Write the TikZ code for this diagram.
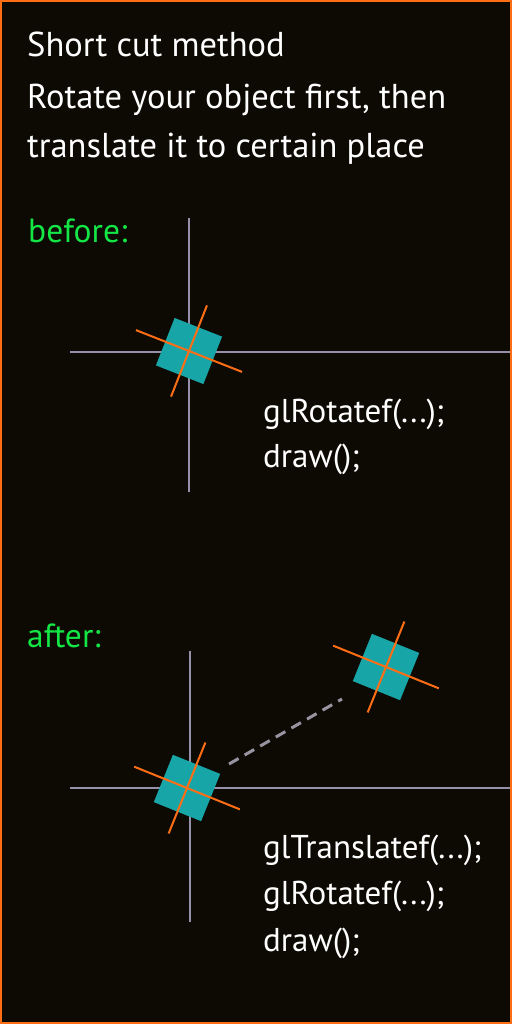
\documentclass[tikz,border=0pt]{standalone}
\usepackage{fontspec}
\setmainfont{PT Sans}
\definecolor{bg}{RGB}{12,10,2}
\definecolor{framec}{RGB}{255,110,20}
\definecolor{axisc}{RGB}{150,145,170}
\definecolor{tealc}{RGB}{24,165,168}
\definecolor{crossc}{RGB}{255,110,20}
\definecolor{greenc}{RGB}{20,230,70}
\definecolor{dashc}{RGB}{150,148,160}
\tikzset{
  axisline/.style={axisc, line width=2pt},
  crossline/.style={crossc, line width=2pt},
  sq/.style={fill=tealc, draw=none, minimum size=51pt, inner sep=0pt, outer sep=0pt, transform shape},
  txt/.style={text=white, anchor=base west, inner sep=0pt, font=\fontsize{34.5}{40}\selectfont},
  code/.style={txt, font=\fontsize{33}{40}\selectfont},
  lbl/.style={text=greenc, anchor=base west, inner sep=0pt, font=\fontsize{33.5}{40}\selectfont},
  dashline/.style={dashc, line width=3pt, dash pattern=on 11pt off 7pt},
  obj/.pic={
    \node[sq] (-sq) at (0,0) {};
    \coordinate (-l) at (-57,0);
    \coordinate (-r) at (57,0);
    \coordinate (-t) at (0,-49);
    \coordinate (-b) at (0,49);
    \draw[crossline] (-l) -- (-r);
    \draw[crossline] (-t) -- (-b);
  }
}
\begin{document}
\begin{tikzpicture}[x=1pt,y=-1pt]
\fill[bg] (0,0) rectangle (512,1024);
\useasboundingbox (0,0) rectangle (512,1024);
% texts
\node[txt] (title) at (27,57) {Short cut method};
\node[txt] (l1) at (27,109) {Rotate your object first, then};
\node[txt] (l2) at (27,158) {translate it to certain place};
\node[lbl] (before) at (28,242) {before:};
\node[lbl] (after) at (27,647) {after:};
\node[code] (c1) at (263,422) {glRotatef(...);};
\node[code] (c2) at (263,467) {draw();};
\node[code] (c3) at (263,858) {glTranslatef(...);};
\node[code] (c4) at (263,904) {glRotatef(...);};
\node[code] (c5) at (263,951) {draw();};
% axes top
\coordinate (ta1) at (189,218); \coordinate (ta2) at (189,492);
\coordinate (th1) at (70,352); \coordinate (th2) at (512,352);
\draw[axisline] (ta1) -- (ta2);
\draw[axisline] (th1) -- (th2);
% axes bottom
\coordinate (ba1) at (190,651); \coordinate (ba2) at (190,922);
\coordinate (bh1) at (70,788); \coordinate (bh2) at (512,788);
\draw[axisline] (ba1) -- (ba2);
\draw[axisline] (bh1) -- (bh2);
% objects
\pic[rotate=-21.5] (o1) at (189,351) {obj};
\pic[rotate=-22] (o2) at (187,788) {obj};
\pic[rotate=-22] (o3) at (386,667) {obj};
% dashed translation
\coordinate (d1) at (229,764);
\coordinate (d2) at (342,699);
\draw[dashline] (d1) -- (d2);
% frame
\draw[framec, line width=2pt] (1,1) rectangle (511,1023);
\end{tikzpicture}
\end{document}
